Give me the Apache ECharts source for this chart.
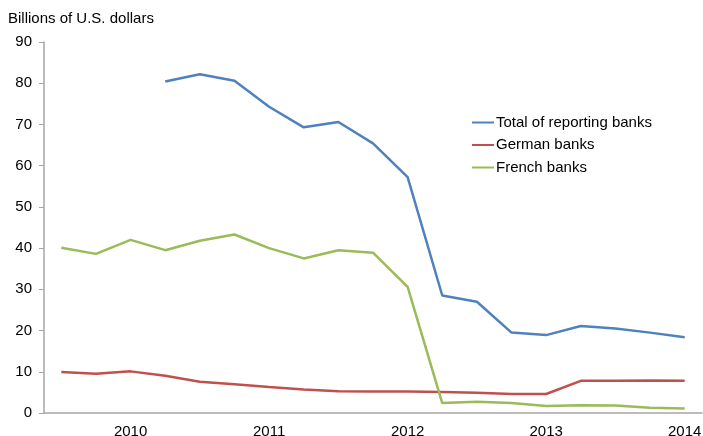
<!DOCTYPE html>
<html>
<head>
<meta charset="utf-8">
<script src="https://cdn.jsdelivr.net/npm/echarts@6/dist/echarts.min.js"></script>
<style>
  html, body { margin: 0; padding: 0; background: #fff; }
  #main { width: 703px; height: 436px; }
</style>
</head>
<body>
<div id="main"></div>
<script>
// quarters, 2009Q3 .. 2014Q1
var quarters = ['2009Q3', '2009Q4', '2010Q1', '2010Q2', '2010Q3', '2010Q4', '2011Q1', '2011Q2',
    '2011Q3', '2011Q4', '2012Q1', '2012Q2', '2012Q3', '2012Q4', '2013Q1', '2013Q2',
    '2013Q3', '2013Q4', '2014Q1'];
var totalBanks = [null, null, null, 80.4, 82.2, 80.6, 74.3, 69.3, 70.6, 65.4, 57.2,
    28.5, 27.0, 19.5, 18.9, 21.1, 20.5, 19.5, 18.4];
var germanBanks = [9.95, 9.5, 10.1, 9.05, 7.6, 7.0, 6.3, 5.7, 5.3, 5.2, 5.2,
    5.1, 4.9, 4.6, 4.6, 7.8, 7.8, 7.9, 7.8];
var frenchBanks = [40.1, 38.6, 42.0, 39.5, 41.8, 43.3, 40.0, 37.5, 39.5, 38.9, 30.6,
    2.4, 2.7, 2.4, 1.7, 1.9, 1.8, 1.3, 1.1];
var seriesNames = ['Total of reporting banks', 'German banks', 'French banks'];
var colors = ['#4F81BD', '#C0504D', '#9BBB59'];

var chart = echarts.init(document.getElementById('main'));
var axisGrey = '#A6A6A6';
var font = 'Liberation Sans, Arial, sans-serif';

function lineSeries(name, data, color) {
    return {
        name: name,
        type: 'line',
        data: data,
        symbol: 'none',
        connectNulls: false,
        lineStyle: { color: color, width: 2.5 },
        itemStyle: { color: color }
    };
}

chart.setOption({
    animation: false,
    textStyle: { fontFamily: font },
    title: {
        text: 'Billions of U.S. dollars',
        left: 8,
        top: 11,
        padding: 0,
        textStyle: { fontSize: 15, fontWeight: 'normal', color: '#000', fontFamily: font }
    },
    legend: {
        orient: 'vertical',
        left: 472,
        top: 115,
        padding: 0,
        itemWidth: 22,
        itemHeight: 2,
        itemGap: 7.5,
        icon: 'rect',
        textStyle: { fontSize: 15, color: '#000', padding: [0, 0, 0, -3] },
        data: seriesNames
    },
    grid: { left: 44, right: 1, top: 42, bottom: 23, outerBoundsMode: 'none' },
    xAxis: {
        type: 'category',
        data: quarters,
        boundaryGap: true,
        axisLine: { lineStyle: { color: axisGrey, width: 1.5 } },
        axisTick: { interval: 3, length: 5, lineStyle: { color: axisGrey } },
        axisLabel: {
            interval: function (index) { return index % 4 === 2; },
            formatter: function (v) { return v.slice(0, 4); },
            fontSize: 15,
            color: '#000',
            margin: 11
        },
        splitLine: { show: false }
    },
    yAxis: {
        type: 'value',
        min: 0,
        max: 90,
        interval: 10,
        axisLine: { show: true, lineStyle: { color: axisGrey, width: 1.5 } },
        axisTick: { show: true, length: 5, lineStyle: { color: axisGrey } },
        axisLabel: { fontSize: 15, color: '#000', margin: 12 },
        splitLine: { show: false }
    },
    series: [
        lineSeries(seriesNames[0], totalBanks, colors[0]),
        lineSeries(seriesNames[1], germanBanks, colors[1]),
        lineSeries(seriesNames[2], frenchBanks, colors[2])
    ]
});
</script>
</body>
</html>
